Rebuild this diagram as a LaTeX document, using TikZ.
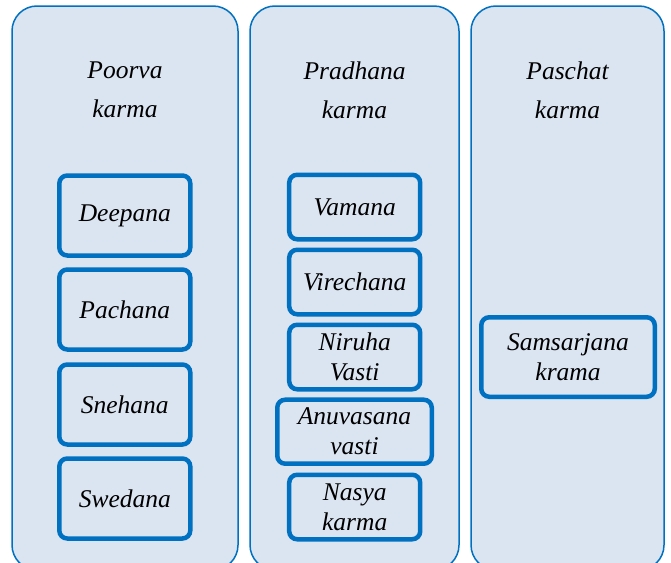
\documentclass[tikz,border=0pt]{standalone}
\usepackage{fontspec}
\setmainfont{Liberation Serif}
\definecolor{myblue}{RGB}{0,112,192}
\definecolor{myfill}{RGB}{219,228,241}
\begin{document}
\begin{tikzpicture}[x=1pt,y=-1pt,
  col/.style={draw=myblue, line width=1.5pt, fill=myfill, rounded corners=25pt, inner sep=0pt},
  ttl/.style={font=\fontsize{25.5}{39}\selectfont\itshape, align=center, inner sep=0pt},
  item/.style={draw=myblue, line width=4.5pt, fill=myfill, rounded corners=8pt, inner sep=0pt,
    font=\fontsize{25.5}{30}\selectfont\itshape, align=center, minimum width=131pt}]
\useasboundingbox (0,0) rectangle (671,562);
% columns
\node[col, minimum width=226pt, minimum height=564pt] (c1) at (125,288) {};
\node[col, minimum width=209pt, minimum height=564pt] (c2) at (354.5,288) {};
\node[col, minimum width=193pt, minimum height=564pt] (c3) at (567.5,288) {};
% titles
\node[ttl] (t1) at (125,90) {Poorva\\karma};
\node[ttl] (t2) at (354.5,90) {Pradhana\\karma};
\node[ttl] (t3) at (567.5,90) {Paschat\\karma};
% column 1
\node[item, minimum height=80pt] (deepana) at (124.8,215.5) {Deepana};
\node[item, minimum height=80pt] (pachana) at (124.8,309.5) {Pachana};
\node[item, minimum height=80pt] (snehana) at (124.8,404.5) {Snehana};
\node[item, minimum height=80pt] (swedana) at (124.8,498.5) {Swedana};
% column 2
\node[item, minimum height=64.5pt] (vamana) at (354.7,207) {Vamana};
\node[item, minimum height=64.5pt] (virechana) at (354.7,282) {Virechana};
\node[item, minimum height=64.5pt] (niruha) at (354.7,357) {Niruha\\Vasti};
\node[item, minimum height=64pt, minimum width=154.5pt] (anuvasana) at (354.5,431.7) {Anuvasana\\vasti};
\node[item, minimum height=64.5pt] (nasya) at (354.7,507) {Nasya\\karma};
% column 3
\node[item, minimum height=79.5pt, minimum width=173.5pt] (samsarjana) at (568,357) {Samsarjana\\krama};
\end{tikzpicture}
\end{document}
